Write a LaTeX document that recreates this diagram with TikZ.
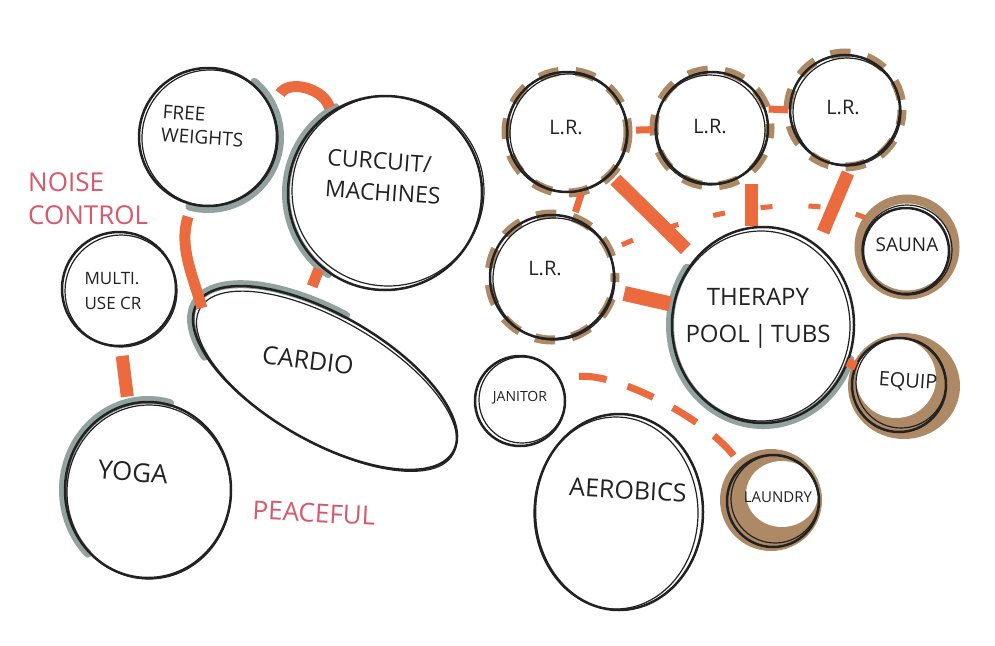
\documentclass[tikz,border=0pt]{standalone}
\usepackage{fontspec}
\setmainfont{Open Sans}
\usetikzlibrary{calc,shapes.geometric,backgrounds}
\definecolor{ink}{HTML}{222222}
\definecolor{shade}{HTML}{80948F}
\definecolor{wash}{HTML}{A57D55}
\definecolor{marker}{HTML}{EB6B3F}
\definecolor{note}{HTML}{D9576B}
\newcommand\fsz[2]{\fontsize{#1}{#2}\selectfont}
\begin{document}
\begin{tikzpicture}[x=1pt,y=-1pt,
  bub/.style={circle,draw=ink,line width=2.5pt,inner sep=0pt,outer sep=0pt},
  ebub/.style={ellipse,draw=ink,line width=2.5pt,inner sep=0pt,outer sep=0pt},
  echo/.style={draw=ink,line width=1.2pt},
  shadowst/.style={draw=shade,line width=8pt,line cap=round,opacity=0.85},
  lrring/.style={draw=wash,line width=9pt,dash pattern=on 20pt off 17pt,opacity=0.9},
  link/.style={draw=marker,line width=11pt},
  thinlink/.style={draw=marker,line width=7pt},
  dashlink/.style={draw=marker,line width=5pt,dash pattern=on 12pt off 36pt},
  dashlinkb/.style={draw=marker,line width=7pt,dash pattern=on 28pt off 22pt},
  lbl/.style={text=ink,align=center,inner sep=0pt},
  notelbl/.style={text=note,align=left,inner sep=0pt}]
\useasboundingbox (0,0) rectangle (995,645);

% ---------- bubbles ----------
\node[bub,minimum size=138] (fw) at (208,137) {};
\node[bub,minimum size=194] (cm) at (385,193) {};
\node[bub,minimum size=114] (multi) at (119,289) {};
\node[ebub,minimum width=166,minimum height=176] (yoga) at (148,490) {};
\node[ebub,minimum width=296,minimum height=126,rotate=-30] (cardio) at (325,378) {};
\node[bub,minimum size=120] (lr1) at (567,132) {};
\node[bub,minimum size=112] (lr2) at (712,128) {};
\node[bub,minimum size=110] (lr3) at (845,110) {};
\node[bub,minimum size=124] (lr4) at (552,277) {};
\node[bub,minimum size=86] (sauna) at (906,251) {};
\node[ebub,minimum width=182,minimum height=196] (therapy) at (763,325) {};
\node[bub,minimum size=90] (janitor) at (520,401) {};
\node[ebub,minimum width=168,minimum height=196] (aerobics) at (619,512) {};
\node[bub,minimum size=94] (equip) at (899,385) {};
\node[bub,minimum size=92] (laundry) at (773,501) {};

% ---------- washes and shadows ----------
\begin{pgfonlayer}{background}
\fill[white] (0,0) rectangle (995,645);
\draw[shadowst] (fw.center) ++(-50:72) arc[start angle=-50,end angle=105,radius=72];
\draw[shadowst] (cm.center) ++(125:99) arc[start angle=125,end angle=240,radius=99];
\draw[shadowst] (yoga.center) ++(135:85 and 90) arc[start angle=135,end angle=285,x radius=85,y radius=90];
\draw[shadowst,rotate around={-30:(cardio.center)}] (cardio.center) ++(140:150 and 65) arc[start angle=140,end angle=265,x radius=150,y radius=65];
\draw[shadowst] (therapy.center) ++(20:93 and 100) arc[start angle=20,end angle=215,x radius=93,y radius=100];
\draw[lrring] (lr1.center) circle[radius=61];
\draw[lrring,dash phase=10pt] (lr2.center) circle[radius=58];
\draw[lrring,dash phase=5pt] (lr3.center) circle[radius=57];
\draw[lrring,dash phase=15pt] (lr4.center) circle[radius=63];
\draw[draw=wash,line width=9pt,opacity=0.9] ($(sauna.center)+(1,-4)$) circle[radius=48];
\fill[wash,opacity=0.9] ($(equip.center)+(5,1)$) ellipse[x radius=56,y radius=53];
\fill[white] ($(equip.center)+(-3,-7)$) circle[radius=40];
\fill[wash,opacity=0.9] ($(laundry.center)+(-2,-1)$) circle[radius=51];
\fill[white] ($(laundry.center)+(9,-7)$) ellipse[x radius=36,y radius=33];
\end{pgfonlayer}

% ---------- echo outlines ----------
\draw[echo] ($(fw.center)+(2,1)$) circle[radius=68];
\draw[echo] ($(cm.center)+(3,-2)$) ellipse[x radius=96,y radius=95];
\draw[echo] ($(multi.center)+(2,2)$) circle[radius=56];
\draw[echo] ($(yoga.center)+(1,2)$) ellipse[x radius=82,y radius=87];
\draw[echo,rotate around={-30:(cardio.center)}] ($(cardio.center)+(3,2)$) ellipse[x radius=146,y radius=61];
\draw[echo] ($(lr1.center)+(2,1)$) circle[radius=59];
\draw[echo] ($(lr2.center)+(-2,2)$) circle[radius=55];
\draw[echo] ($(lr3.center)+(2,2)$) circle[radius=54];
\draw[echo] ($(lr4.center)+(2,2)$) circle[radius=61];
\draw[echo] ($(sauna.center)+(1,-1)$) circle[radius=45];
\draw[echo] ($(therapy.center)+(-2,1)$) ellipse[x radius=89,y radius=95];
\draw[echo] ($(janitor.center)+(2,-1)$) circle[radius=43];
\draw[echo] ($(aerobics.center)+(-3,1)$) ellipse[x radius=82,y radius=96];
\draw[echo] ($(equip.center)+(2,-2)$) circle[radius=45];
\draw[echo] ($(laundry.center)+(2,-2)$) circle[radius=44];

% ---------- links ----------
\draw[link] ($(fw.center)!1.22!(fw.31)$) .. controls +(8,-14) and +(-6,-20) .. ($(cm.center)!1.05!(cm.123)$);
\draw[link] ($(fw.center)!1.19!(fw.256)$) .. controls +(-10,30) and +(-8,-30) .. ($(cardio.west)+(5,4)$);
\draw[link] ($(cm.center)!1.04!(cm.229)$) -- ($(cm.center)!1.22!(cm.232)$);
\draw[link,line width=13pt,shorten <=10pt,shorten >=8pt] (multi.272) -- (yoga.103);
\draw[thinlink,shorten <=9pt,shorten >=4pt] (lr1) -- (lr2);
\draw[thinlink,shorten <=4pt,shorten >=2pt] (lr2.20) -- (lr3.180);
\draw[link,line width=14pt,shorten <=8pt,shorten >=14pt] (lr1) -- (therapy);
\draw[thinlink,shorten <=4pt,shorten >=7pt] (lr1.-75) -- (lr4.70);
\draw[dashlink,shorten <=15pt,shorten >=10pt] (lr4.25) .. controls (690,215) and (800,190) .. (sauna.137);
\draw[link,line width=13pt] ($(lr2.center)+(39,56)$) -- ($(therapy.center)+(-12,-99)$);
\draw[link,line width=13pt] ($(lr3.center)+(3,63)$) -- ($(therapy.center)+(60,-93)$);
\draw[link,line width=15pt,shorten <=12pt,shorten >=4pt] (lr4) -- (therapy);
\draw[link,line width=9pt] (therapy) -- (equip);
\draw[dashlinkb,shorten <=20pt,shorten >=10pt] (janitor.30) .. controls +(60,-6) and +(-30,-45) .. (laundry.133);

% ---------- labels ----------
\node[lbl,align=left,font=\fsz{19}{23},rotate=-4] (fwT) at (203,126) {FREE\\WEIGHTS};
\node[lbl,align=left,font=\fsz{23}{31},rotate=-4] (cmT) at (384,177) {CURCUIT/\\MACHINES};
\node[lbl,align=left,font=\fsz{17}{25}] (multiT) at (113,291) {MULTI.\\USE CR};
\node[lbl,font=\fsz{26}{30},rotate=-5] (yogaT) at (133,472) {YOGA};
\node[lbl,font=\fsz{25}{30},rotate=-7] (cardioT) at (308,360) {CARDIO};
\node[lbl,font=\fsz{20}{24}] (lr1T) at (566,128) {L.R.};
\node[lbl,font=\fsz{20}{24}] (lr2T) at (710,127) {L.R.};
\node[lbl,font=\fsz{20}{24}] (lr3T) at (843,108) {L.R.};
\node[lbl,font=\fsz{20}{24}] (lr4T) at (545,268) {L.R.};
\node[lbl,font=\fsz{19}{23}] (saunaT) at (907,245) {SAUNA};
\node[lbl,font=\fsz{24}{37}] (therapyT) at (758,318) {THERAPY\\POOL\,|\,TUBS};
\node[lbl,font=\fsz{20}{24},rotate=-4] (equipT) at (908,382) {EQUIP};
\node[lbl,font=\fsz{14}{18}] (janitorT) at (520,398) {JANITOR};
\node[lbl,font=\fsz{25}{30},rotate=-3] (aerobicsT) at (628,490) {AEROBICS};
\node[lbl,font=\fsz{15}{18}] (laundryT) at (778,497) {LAUNDRY};
\node[notelbl,font=\fsz{26}{33},anchor=west] (noiseT) at (28,199) {NOISE\\CONTROL};
\node[notelbl,font=\fsz{26}{30},rotate=-3] (peaceT) at (314,513) {PEACEFUL};
\end{tikzpicture}
\end{document}
